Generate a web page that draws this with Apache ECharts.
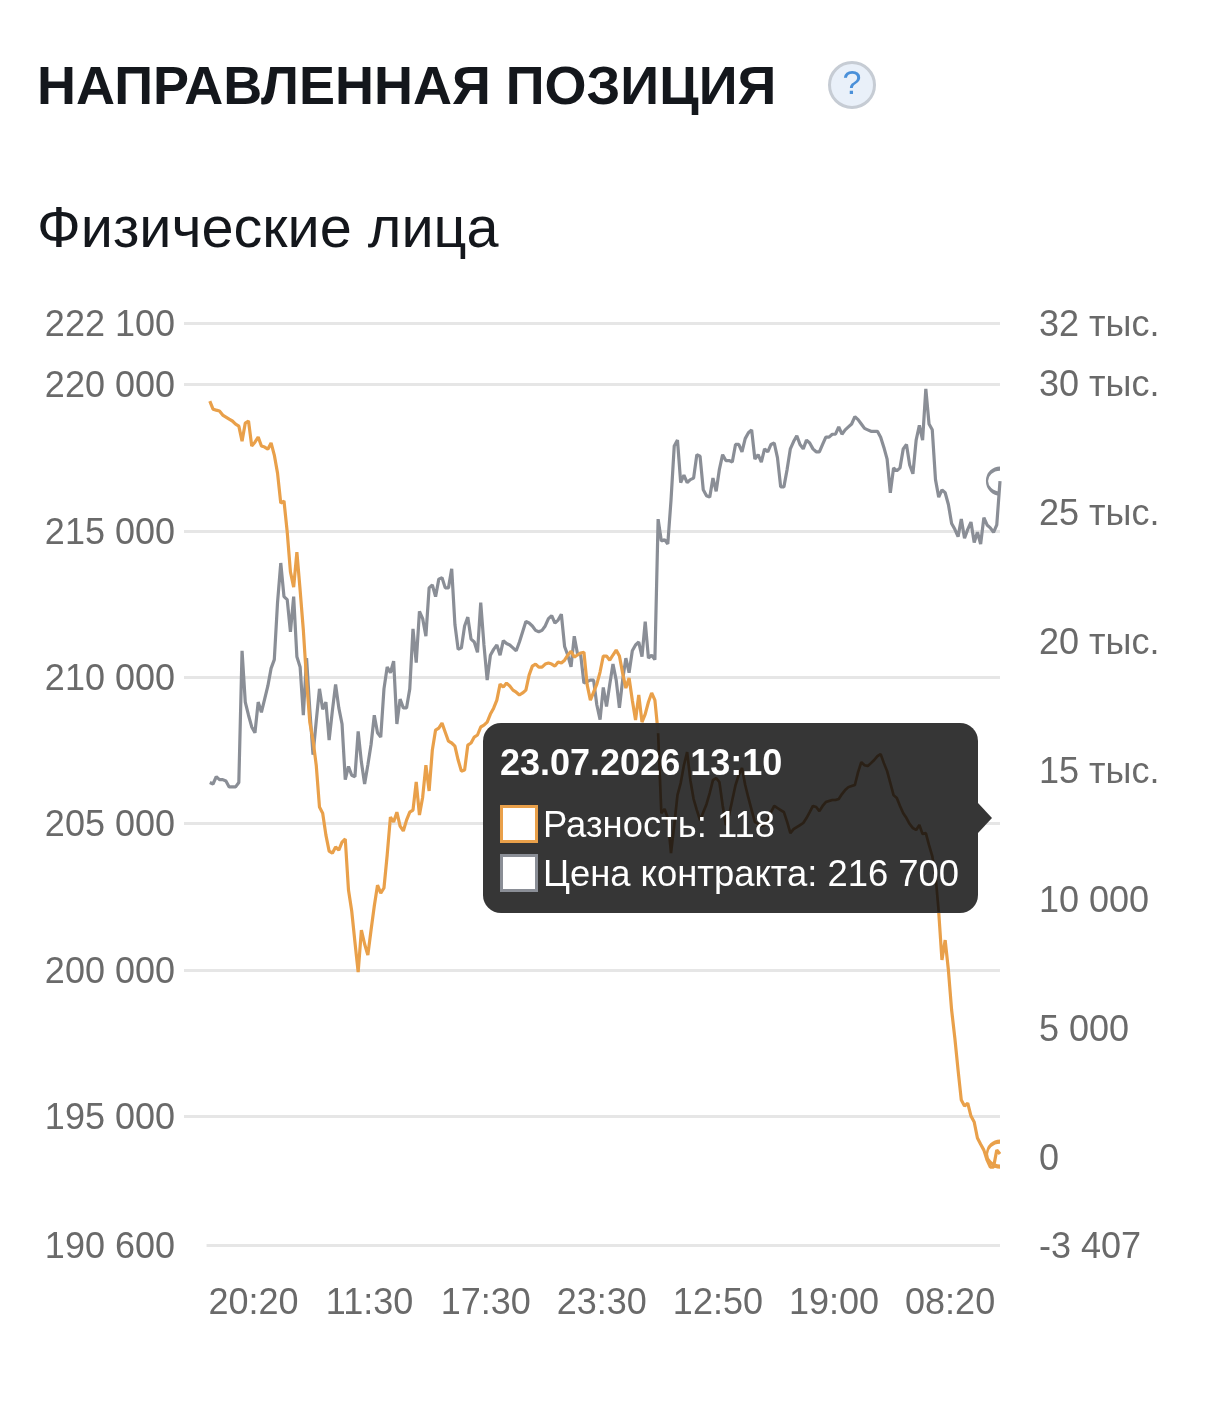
<!DOCTYPE html>
<html><head><meta charset="utf-8">
<style>html,body{margin:0;padding:0;background:#fff}#c{width:1206px;height:1403px}</style>
<script src="https://cdn.jsdelivr.net/npm/echarts@6/dist/echarts.min.js"></script>
</head><body><div id="c"></div>
<script>
const titleText = 'НАПРАВЛЕННАЯ ПОЗИЦИЯ';
const subtitleText = 'Физические лица';
const tickLabels = ['20:20','11:30','17:30','23:30','12:50','19:00','08:20'];
const leftTicks = [190600,195000,200000,205000,210000,215000,220000,222100];
const rightTicks = [-3407,0,5000,10000,15000,20000,25000,30000,32329];
const tipDate = '23.07.2026 13:10';
const seriesNames = ['Разность','Цена контракта'];
const priceValues = [206400,206350,206600,206500,206500,206450,206250,206250,206250,206400,
210900,209150,208700,208300,208100,209150,208800,209250,209700,210300,
210600,212550,213900,212750,212650,211550,212750,210700,210350,208700,
210650,208900,207350,208500,209600,208900,209150,207850,208850,209750,
208950,208400,206500,206950,206650,206600,208150,207100,206350,207000,
207700,208700,208100,207950,209600,210350,210150,210550,208400,209250,
208950,208950,209600,211650,210500,212250,212000,211400,213050,213150,
212750,213350,213400,213050,213050,213700,211800,210950,211000,211750,
212050,211300,211200,210850,212550,211100,209900,210750,210950,211100,
210750,211250,211150,211100,211000,210900,211200,211550,211900,211850,
211750,211600,211550,211600,211750,212000,212100,211850,211950,212150,
211050,210750,210350,211400,210800,210750,209800,209850,209900,209900,
209050,208550,209650,209000,209750,210450,209900,208950,209900,210650,
210150,210900,211100,211200,210700,211900,210650,210750,210600,215400,
214650,214700,214550,216050,217900,218100,216650,216900,216650,216750,
216800,217600,217550,216400,216200,216150,216800,216350,217100,217600,
217400,217400,217350,217950,217950,217700,218150,218350,218450,217450,
217600,217350,217800,217700,217950,218000,217500,216500,216500,217100,
217800,218050,218250,217950,217800,218100,218000,217800,217700,217700,
217950,218200,218200,218300,218300,218550,218300,218450,218550,218650,
218900,218800,218650,218500,218450,218400,218400,218400,218200,217850,
217450,216300,217150,217050,217150,217800,217950,217250,216950,218100,
218600,218100,219850,218650,218450,216750,216150,216400,216300,215900,
215250,215050,214800,215400,214750,215050,215300,214600,214950,214550,
215450,215200,215100,214950,215200,216700];
const diffValues = [29300,28990,28950,28920,28760,28680,28600,28530,28410,28330,
27750,28450,28530,27560,27710,27910,27560,27520,27440,27680,
27210,26510,25350,25430,24230,22680,22090,23450,21980,20430,
18490,16860,16160,15190,13570,13330,12480,11860,11780,12020,
11900,12210,12330,10350,9540,8330,7170,8800,8260,7830,
8800,9730,10540,10230,10430,11710,13180,12990,13370,12830,
12640,13060,13370,13450,14540,13260,13950,15190,14190,15780,
16550,16630,16820,16470,16120,16050,15930,15390,14960,15000,
15970,16050,16280,16360,16670,16740,16860,17170,17400,17710,
18330,18220,18370,18260,18100,18020,17910,17990,18100,18680,
19030,19110,18990,18990,19110,19150,19110,19030,19190,19150,
19260,19460,19610,19380,19460,19540,19570,18300,17710,18020,
18330,18800,19420,19420,19260,19460,19650,19420,18760,18180,
18570,17710,16940,17910,16860,17170,17640,17990,17710,16430,
13330,13490,13140,11780,12870,14030,14500,15190,15700,14610,
13880,13450,13060,13370,13680,14110,14610,14690,14540,13640,
12870,13260,13840,14420,14810,15080,14420,13920,13450,12990,
12910,12830,12870,13060,13370,13610,13530,13450,13370,12990,
12560,12710,12790,12870,12950,13140,13370,13610,13570,13410,
13610,13760,13800,13840,13840,13880,14070,14230,14340,14380,
14420,14920,15310,15190,15160,15270,15390,15540,15620,15270,
14960,14500,14030,13920,13610,13330,13140,12910,12750,12680,
12870,12520,12560,12090,11670,10930,9500,7640,8410,7250,
5700,4610,3370,2210,1980,2090,1590,1360,740,500,
270,-120,-390,-390,270,118];

// stretch of the difference series that runs behind the tooltip panel
const behindFrom = 139, behindTo = 226;
const leadPad = 8, firstTick = 14, tickStep = 36;
const pad = new Array(leadPad).fill(null);
const cats = new Array(leadPad + priceValues.length).fill('');
tickLabels.forEach((t, k) => { cats[leadPad + firstTick + k * tickStep] = t; });
const lastIdx = cats.length - 1;
const spaced = v => String(Math.abs(v)).replace(/\B(?=(\d{3})+$)/g, ' ');
const fmtLeft = v => spaced(v);
const fmtRight = v => {
  if (v >= 15000) return Math.round(v / 1000) + ' тыс.';
  return (v < 0 ? '-' : '') + spaced(v);
};
const GRAY = '#8a8e96', ORANGE = '#e9a04a', TXT = '#6a6a6a', GRID = '#e6e6e6';
const FONT = '"Liberation Sans"';
const halfRing = 'path://M10 0A10 10 0 0 0 10 20';
const endRing = (val, color) => ({
  symbol: 'none', silent: true, label: {show: false},
  data: [{coord: [lastIdx, val], symbol: halfRing, symbolSize: [13, 25], symbolOffset: [-6.5, 0],
          itemStyle: {color: 'none', borderColor: color, borderWidth: 3}}]
});
const gridPairs = leftTicks.filter((v, i) => i > 0)
  .map(v => [{xAxis: 0, yAxis: v}, {xAxis: lastIdx, yAxis: v}]);
gridPairs.push([{xAxis: leadPad - 1, yAxis: leftTicks[0]}, {xAxis: lastIdx, yAxis: leftTicks[0]}]);

const chart = echarts.init(document.getElementById('c'));
chart.setOption({
  animation: false,
  backgroundColor: '#fff',
  title: [
    {text: titleText, left: 37, top: 62, padding: 0,
     textStyle: {fontFamily: FONT, fontSize: 54, fontWeight: 'bold', color: '#14171c'}},
    {text: subtitleText, left: 37, top: 202, padding: 0,
     textStyle: {fontFamily: FONT, fontSize: 57.6, fontWeight: 'normal', color: '#14171c'}}
  ],
  grid: {left: 184, right: 206, top: 323, height: 922, containLabel: false},
  xAxis: {
    type: 'category', data: cats, boundaryGap: false,
    axisLine: {show: false}, axisTick: {show: false}, splitLine: {show: false},
    axisLabel: {interval: i => cats[i] !== '', margin: 41, color: TXT,
                fontFamily: FONT, fontSize: 36, hideOverlap: false, padding: [0, 3, 0, 0]}
  },
  yAxis: [
    {type: 'value', min: leftTicks[0], max: leftTicks[leftTicks.length - 1], position: 'left',
     axisLine: {show: false}, axisTick: {show: false}, splitLine: {show: false},
     axisLabel: {customValues: leftTicks, margin: 9, color: TXT, fontFamily: FONT, fontSize: 36,
                 verticalAlign: 'top', lineHeight: 6, formatter: fmtLeft}},
    {type: 'value', min: rightTicks[0], max: rightTicks[rightTicks.length - 1], position: 'right',
     axisLine: {show: false}, axisTick: {show: false}, splitLine: {show: false},
     axisLabel: {customValues: rightTicks, margin: 39, color: TXT, fontFamily: FONT, fontSize: 36,
                 verticalAlign: 'top', lineHeight: 6, formatter: fmtRight}}
  ],
  series: [
    {name: seriesNames[1], type: 'line', yAxisIndex: 0, data: pad.concat(priceValues),
     symbol: 'none', lineStyle: {color: GRAY, width: 3.2}, itemStyle: {color: GRAY},
     markPoint: endRing(priceValues[priceValues.length - 1], GRAY),
     markLine: {silent: true, symbol: 'none', z: 1, label: {show: false},
       lineStyle: {color: GRID, width: 3, type: 'solid'}, data: gridPairs}},
    {name: seriesNames[0], type: 'line', yAxisIndex: 1, data: pad.concat(diffValues),
     symbol: 'none', lineStyle: {color: ORANGE, width: 3.2}, itemStyle: {color: ORANGE},
     markPoint: endRing(diffValues[diffValues.length - 1], ORANGE)},
    {name: seriesNames[0] + ' (за подсказкой)', type: 'line', yAxisIndex: 1, z: 150, silent: true,
     data: pad.concat(diffValues.map((v, i) => (i >= behindFrom && i <= behindTo) ? v : null)),
     symbol: 'none', lineStyle: {color: '#2a2016', width: 2.6}}
  ],
  graphic: [
    {type: 'circle', shape: {cx: 852, cy: 85, r: 22.5}, style: {fill: '#e9f0f9', stroke: '#c6ccd4', lineWidth: 3}},
    {type: 'text', x: 852, y: 85, style: {text: '?', fill: '#4a90d9', font: '34px ' + FONT, align: 'center', verticalAlign: 'middle'}},
    {type: 'group', children: [
      {type: 'polygon', z: 100, shape: {points: [[978, 803], [992, 818], [978, 833]]}, style: {fill: 'rgba(50,50,50,0.98)'}},
      {type: 'rect', z: 100, shape: {x: 483, y: 723, width: 495, height: 190, r: 18}, style: {fill: 'rgba(50,50,50,0.98)'}},
      {type: 'text', z: 200, x: 500, y: 765, style: {text: tipDate, fill: '#fff', font: 'bold 36px ' + FONT, verticalAlign: 'middle'}},
      {type: 'rect', z: 200, shape: {x: 501.5, y: 806.5, width: 35, height: 35}, style: {fill: '#fff', stroke: ORANGE, lineWidth: 3}},
      {type: 'text', z: 200, x: 543, y: 827, style: {text: seriesNames[0] + ': ' + spaced(diffValues[diffValues.length - 1]), fill: '#fff', font: '36.4px ' + FONT, verticalAlign: 'middle'}},
      {type: 'rect', z: 200, shape: {x: 501.5, y: 855.5, width: 35, height: 35}, style: {fill: '#fff', stroke: GRAY, lineWidth: 3}},
      {type: 'text', z: 200, x: 543, y: 876, style: {text: seriesNames[1] + ': ' + spaced(priceValues[priceValues.length - 1]), fill: '#fff', font: '36.4px ' + FONT, verticalAlign: 'middle'}}
    ]}
  ]
});
</script></body></html>
